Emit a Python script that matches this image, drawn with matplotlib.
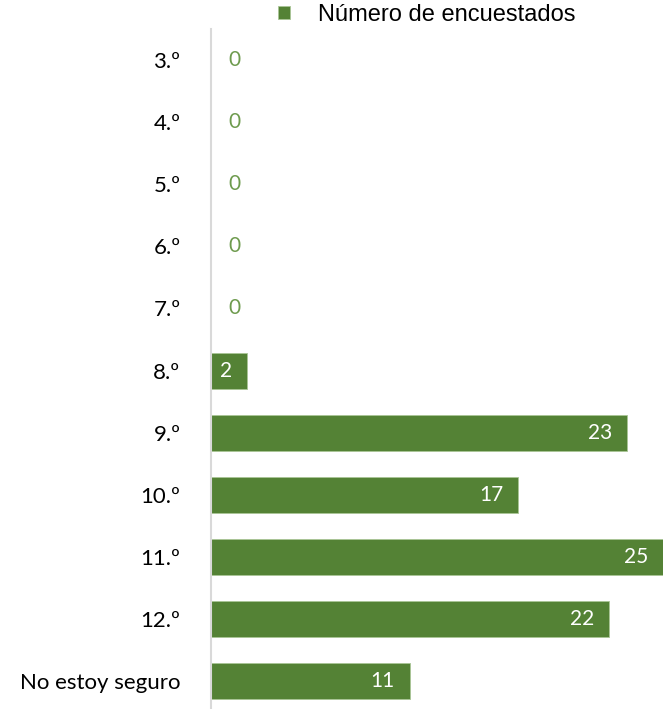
import matplotlib.pyplot as plt
from matplotlib.transforms import offset_copy

plt.rcParams['font.family'] = ['Lato', 'DejaVu Sans']

categorias = ["3.º", "4.º", "5.º", "6.º", "7.º", "8.º", "9.º", "10.º", "11.º", "12.º", "No estoy seguro"]
encuestados = [0, 0, 0, 0, 0, 2, 23, 17, 25, 22, 11]
serie = "Número de encuestados"

verde = "#548235"

fig = plt.figure(figsize=(6.68, 7.09), dpi=100)
ax = fig.add_axes([211 / 668, 0.0, (663 - 211) / 668, 1 - 29 / 709])

pos = list(range(len(categorias)))
barras = ax.barh(pos, encuestados, height=0.58, color=verde, label=serie,
                 edgecolor="#A9C596", linewidth=0.6)

ax.set_xlim(0, 25)
ax.set_ylim(10.45, -0.5)
ax.set_yticks(pos)
ax.set_yticklabels(categorias, fontsize=16, color="#000000")
ax.tick_params(axis="y", length=0, pad=22)
ax.set_xticks([])

for lado in ["top", "right", "bottom"]:
    ax.spines[lado].set_visible(False)
ax.spines["left"].set_color("#D9D9D9")
ax.spines["left"].set_linewidth(1.5)

for p, v in zip(pos, encuestados):
    if v == 0:
        tr = offset_copy(ax.transData, fig=fig, x=17, y=0, units="dots")
        ax.text(v, p, str(v), transform=tr, ha="left", va="center",
                fontsize=15, color="#6E9B4E")
    else:
        tr = offset_copy(ax.transData, fig=fig, x=-15, y=0, units="dots")
        ax.text(v, p, str(v), transform=tr, ha="right", va="center",
                fontsize=15, color="white")

fig.legend(handles=[barras], labels=[serie], loc="center",
           bbox_to_anchor=(427 / 668, 1 - 15 / 709), frameon=False,
           prop={"family": "Liberation Sans", "size": 17},
           handlelength=0.5, handleheight=0.5, handletextpad=1.2)

fig.savefig("out.png", dpi=100)
